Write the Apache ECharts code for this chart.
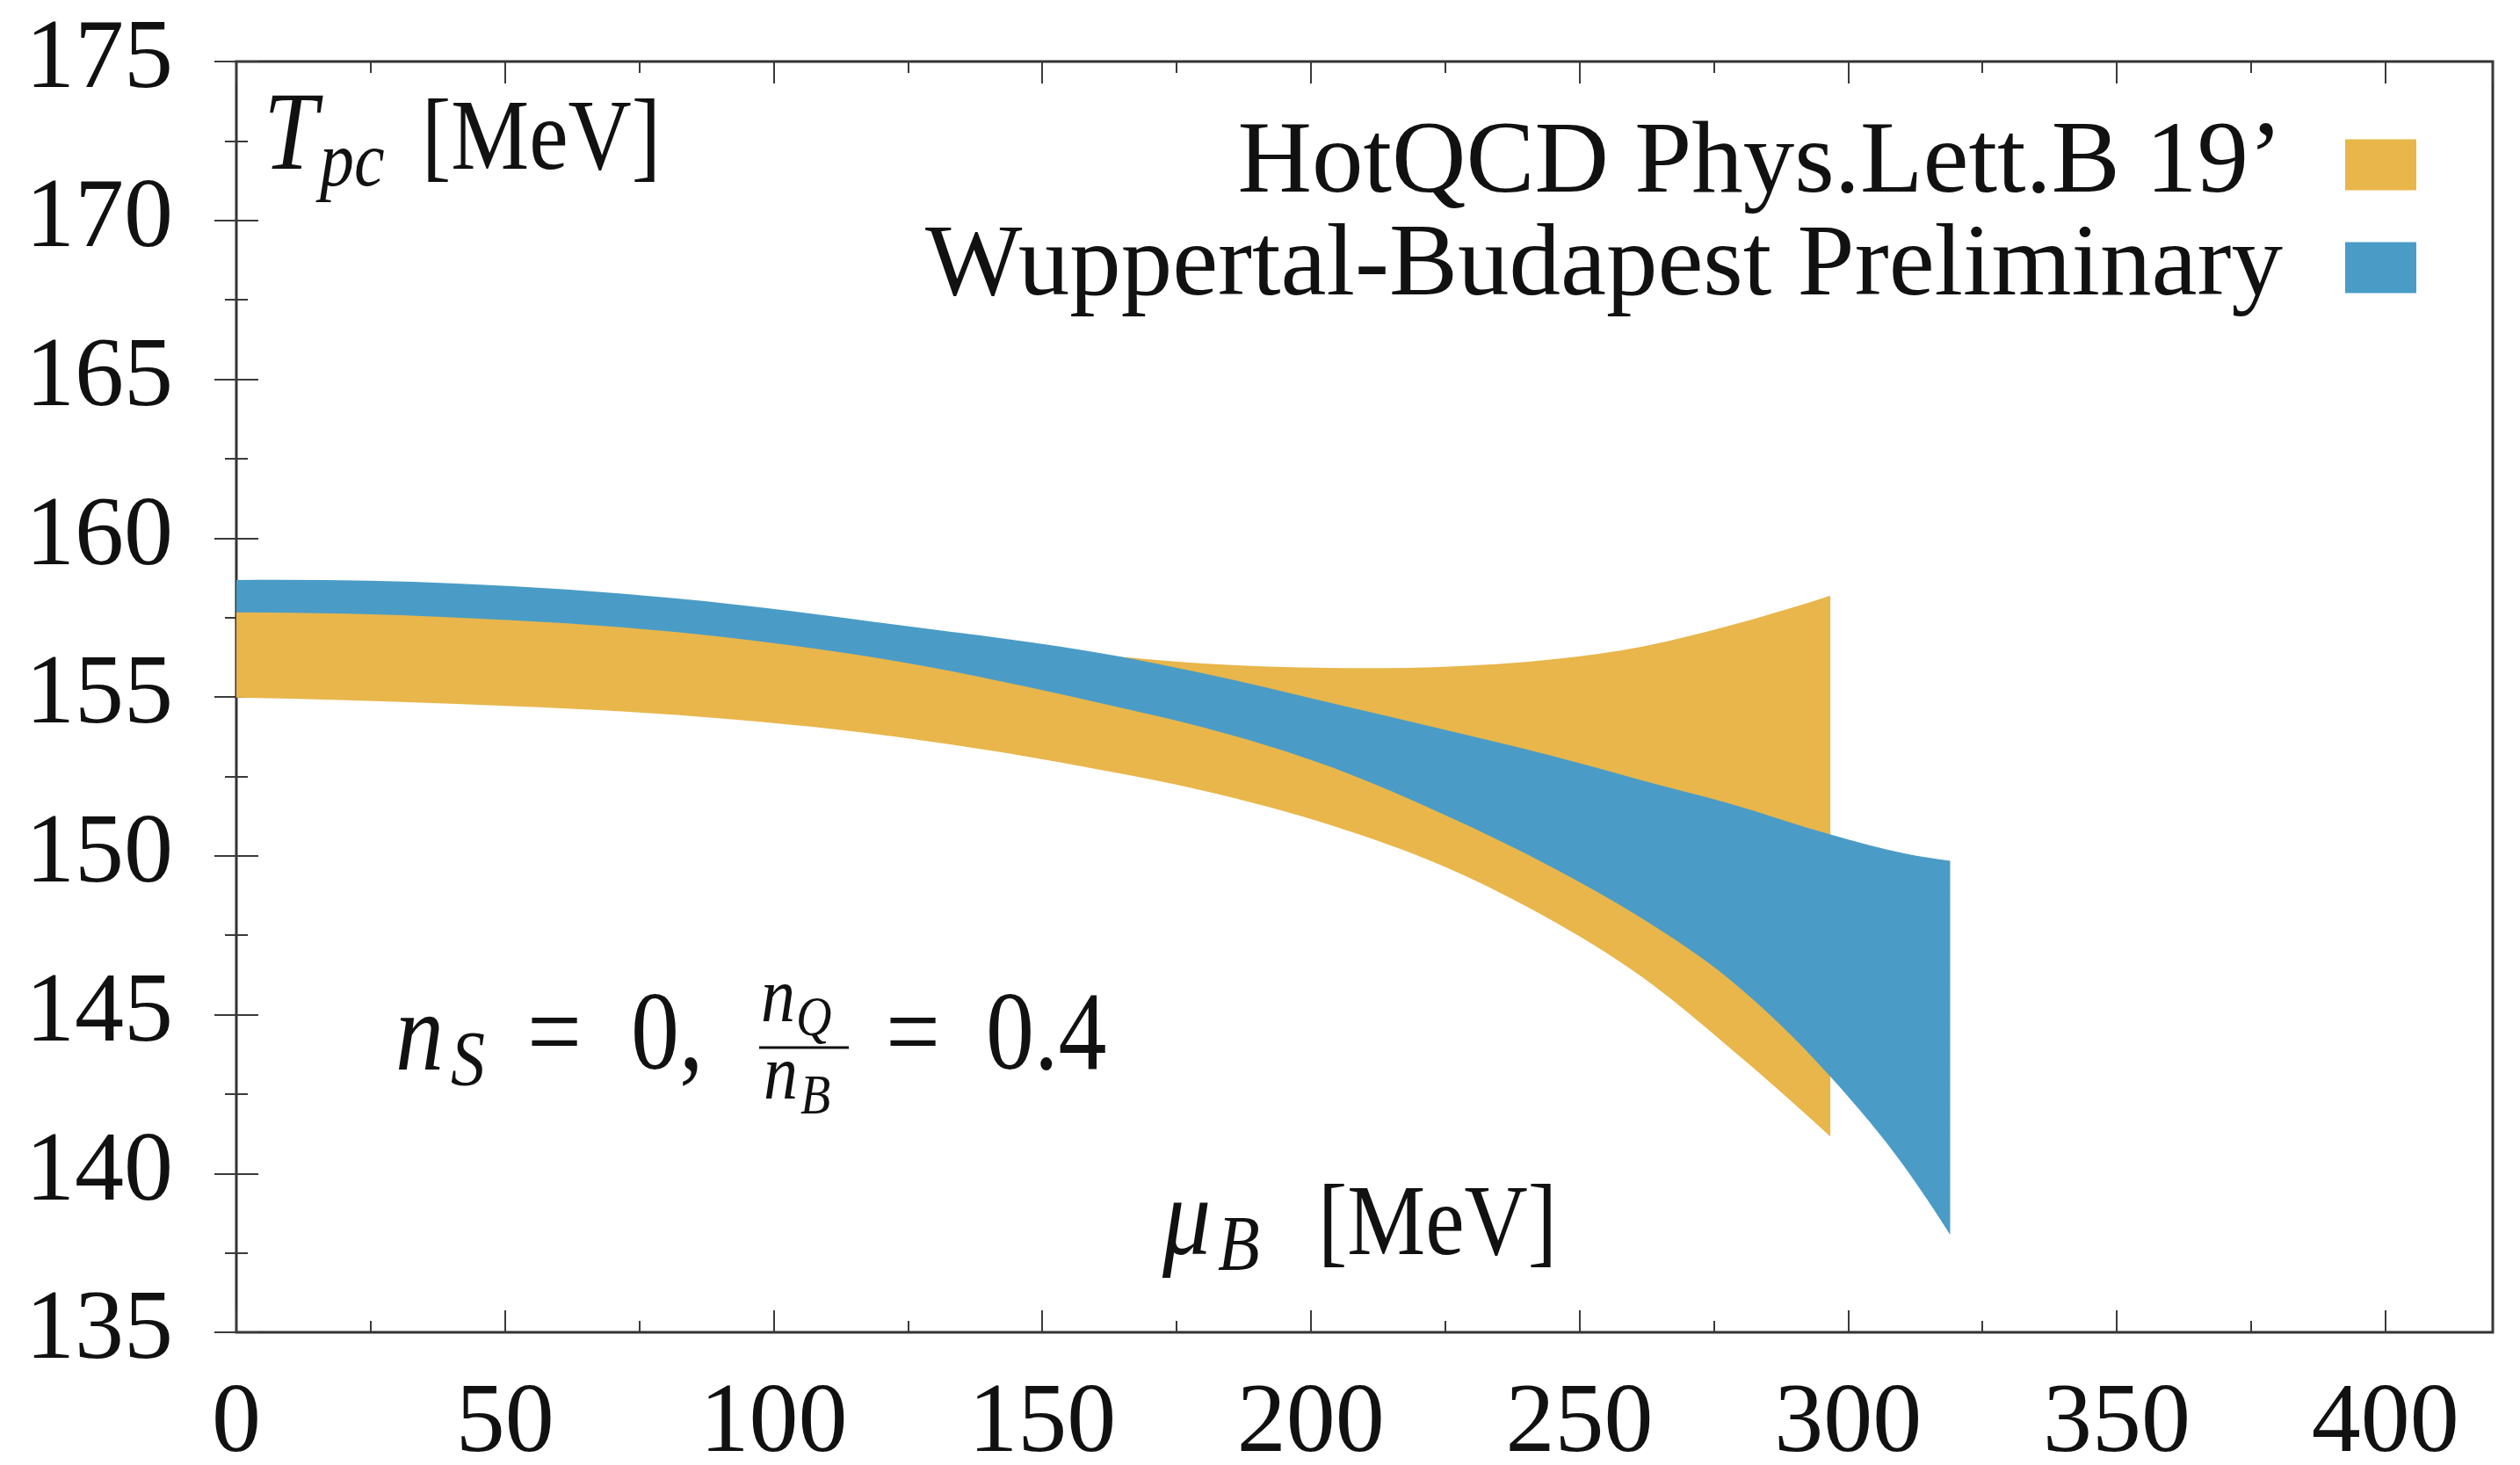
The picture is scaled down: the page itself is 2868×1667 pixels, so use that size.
<!DOCTYPE html>
<html><head><meta charset="utf-8">
<script src="https://cdn.jsdelivr.net/npm/echarts@6/dist/echarts.min.js"></script>
<style>html,body{margin:0;padding:0;background:#fff}#c{width:2868px;height:1667px}</style>
</head><body><div id="c"></div>
<script>
// ---- data ----
const muOrange    = [0, 41, 82, 123, 163.5, 180, 204, 225, 245, 261.5, 278, 296.7];
const orangeLower = [154.98, 154.78, 154.43, 153.74, 152.62, 152.05, 150.95, 149.65, 147.95, 146.2, 143.95, 141.16];
const orangeUpper = [158.0, 157.9, 157.55, 156.9, 156.28, 156.05, 155.91, 155.95, 156.18, 156.58, 157.25, 158.19];

const muBlue    = [0, 41, 82, 123, 163.5, 180, 204, 225, 245, 261.5, 278, 296.7, 310.6, 319];
const blueLower = [157.66, 157.5, 157.04, 156.12, 154.7, 154.04, 152.78, 151.28, 149.63, 148.04, 146.1, 143.05, 140.19, 138.07];
const blueUpper = [158.68, 158.57, 158.1, 157.27, 156.3, 155.74, 154.8, 153.96, 153.14, 152.38, 151.64, 150.67, 150.07, 149.84];

const seriesNames = ['HotQCD Phys.Lett.B 19\u2019', 'Wuppertal-Budapest Preliminary'];
const xTickLabels = [0, 50, 100, 150, 200, 250, 300, 350, 400];
const yTickLabels = [135, 140, 145, 150, 155, 160, 165, 170, 175];

// ---- styling ----
const FONT = 'Liberation Serif';
const ORANGE = '#E8B64B';
const BLUE = '#4A9CC7';
const TICK = '#3a3a3a';

const GRID = {left: 269, right: 31, top: 70, bottom: 151, containLabel: false, outerBoundsMode: 'none'};

function xAx(gridIndex, position, interval, len, labels) {
  return {
    type: 'value', gridIndex, position, min: 0, max: 420, interval,
    axisLine: {show: false},
    axisTick: {show: true, inside: true, length: len, lineStyle: {color: TICK, width: 2}},
    axisLabel: labels ? {
      show: true, inside: false, margin: 50, fontFamily: FONT, fontSize: 112, color: '#111',
      showMaxLabel: false,
      formatter: v => (xTickLabels.indexOf(v) >= 0 ? String(v) : '')
    } : {show: false},
    splitLine: {show: false}
  };
}
function yAx(position, labels) {
  return {
    type: 'value', gridIndex: 0, position, min: 135, max: 175, interval: 5,
    axisLine: {show: false},
    axisTick: {show: true, inside: true, length: 25, lineStyle: {color: TICK, width: 2}},
    minorTick: {show: true, splitNumber: 2, length: 13, lineStyle: {color: TICK, width: 2}},
    axisLabel: labels ? {
      show: true, inside: false, margin: 72, fontFamily: FONT, fontSize: 112, color: '#111',
      formatter: v => (yTickLabels.indexOf(v) >= 0 ? String(v) : '')
    } : {show: false},
    splitLine: {show: false}
  };
}

// smooth outline through the pixel points of the read values — drawing only
function segs(p) {
  const n = p.length, dx = [], s = [], m = [];
  for (let i = 0; i < n - 1; i++) { dx[i] = p[i + 1][0] - p[i][0]; s[i] = (p[i + 1][1] - p[i][1]) / dx[i]; }
  for (let i = 1; i < n - 1; i++) m[i] = (dx[i] * s[i - 1] + dx[i - 1] * s[i]) / (dx[i - 1] + dx[i]);
  m[0] = n > 2 ? 2 * s[0] - m[1] : s[0];
  m[n - 1] = n > 2 ? 2 * s[n - 2] - m[n - 2] : s[0];
  const out = [];
  for (let i = 0; i < n - 1; i++) {
    const h = dx[i] / 3;
    out.push({a: p[i], c1: [p[i][0] + h, p[i][1] + m[i] * h], c2: [p[i + 1][0] - h, p[i + 1][1] - m[i + 1] * h], b: p[i + 1]});
  }
  return out;
}
function bandPath(api, xs, lo, hi) {
  const up = xs.map((x, i) => api.coord([x, hi[i]]));
  const dn = xs.map((x, i) => api.coord([x, lo[i]]));
  const f = v => v[0].toFixed(2) + ' ' + v[1].toFixed(2);
  let d = 'M' + f(up[0]);
  segs(up).forEach(g => { d += ' C' + f(g.c1) + ' ' + f(g.c2) + ' ' + f(g.b); });
  d += ' L' + f(dn[dn.length - 1]);
  segs(dn).reverse().forEach(g => { d += ' C' + f(g.c2) + ' ' + f(g.c1) + ' ' + f(g.a); });
  return d + ' Z';
}
function bandSeries(name, xs, lo, hi, color, z) {
  return {
    name, type: 'custom', xAxisIndex: 0, yAxisIndex: 0, clip: true, silent: true, z,
    color, itemStyle: {color},
    data: xs.map((x, i) => [x, lo[i], hi[i]]),
    encode: {x: 0, y: [1, 2]},
    renderItem: (params, api) => {
      if (params.dataIndex !== 0) return null;
      return {type: 'path', shape: {pathData: bandPath(api, xs, lo, hi)}, style: {fill: color, stroke: null}};
    }
  };
}

// text placed by baseline, slightly stretched vertically like the reference glyphs
function txt(text, x, baseline, size, italic) {
  return {
    type: 'text', x: x, y: baseline, scaleY: 1.15, silent: true, z: 10,
    style: {
      text: text, x: 0, y: -0.33 * size,
      font: (italic ? 'italic ' : '') + size + 'px "' + FONT + '"',
      fill: '#111', align: 'left', textAlign: 'left',
      verticalAlign: 'middle', textVerticalAlign: 'middle'
    }
  };
}

const chart = echarts.init(document.getElementById('c'), null, {renderer: 'canvas'});
chart.setOption({
  backgroundColor: '#fff',
  animation: false,
  grid: [
    Object.assign({show: true, borderColor: '#333', borderWidth: 3, backgroundColor: 'transparent'}, GRID),
    Object.assign({show: false}, GRID)
  ],
  xAxis: [
    xAx(0, 'bottom', 50, 25, true),
    xAx(0, 'top', 50, 25, false),
    xAx(1, 'bottom', 25, 13, false),
    xAx(1, 'top', 25, 13, false)
  ],
  yAxis: [
    yAx('left', true),
    yAx('right', false),
    Object.assign(yAx('left', false), {gridIndex: 1, axisTick: {show: false}, minorTick: {show: false}})
  ],
  legend: {
    show: true, orient: 'vertical', align: 'right', right: 118, top: 129,
    padding: 0, itemGap: 0, itemWidth: 81, itemHeight: 58, icon: 'rect',
    selectedMode: false,
    textStyle: {fontFamily: FONT, fontSize: 117, color: '#111', lineHeight: 110, padding: [0, 66, 0, 0]},
    data: [
      {name: seriesNames[0], itemStyle: {color: ORANGE}},
      {name: seriesNames[1], itemStyle: {color: BLUE}}
    ]
  },
  series: [
    bandSeries(seriesNames[0], muOrange, orangeLower, orangeUpper, ORANGE, 2),
    bandSeries(seriesNames[1], muBlue, blueLower, blueUpper, BLUE, 3)
  ],
  graphic: [
    // T_pc [MeV]
    txt('T', 300, 200, 110, true),
    txt('pc', 364, 217, 78, true),
    txt('[MeV]', 480, 200, 100, false),
    // n_S = 0,  n_Q / n_B = 0.4
    txt('n', 450, 1225, 110, true),
    txt('S', 513, 1240, 78, true),
    txt('=', 600, 1225, 110, false),
    txt('0,', 718, 1225, 110, false),
    txt('n', 866, 1168, 78, true),
    txt('Q', 906, 1182, 56, true),
    {type: 'line', silent: true, z: 10, shape: {x1: 864, y1: 1192, x2: 966, y2: 1192}, style: {stroke: '#111', lineWidth: 3}},
    txt('n', 869, 1256, 78, true),
    txt('B', 911, 1271, 56, true),
    txt('=', 1008, 1225, 110, false),
    txt('0.4', 1122, 1225, 110, false),
    // mu_B [MeV]
    txt('\u03bc', 1323, 1435, 110, true),
    txt('B', 1386, 1450, 78, true),
    txt('[MeV]', 1500, 1435, 100, false)
  ]
});
</script>
</body></html>
